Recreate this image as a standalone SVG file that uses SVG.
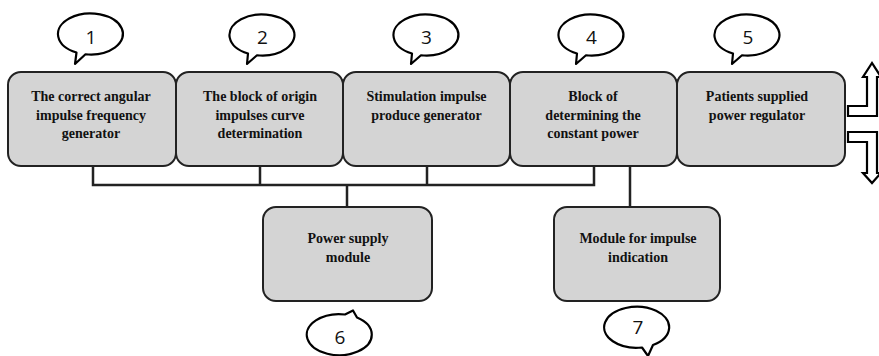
<svg xmlns="http://www.w3.org/2000/svg" width="879" height="356" viewBox="0 0 879 356">
<style>
.box{fill:#d4d4d4;stroke:#222;stroke-width:2}
.lbl{font-family:"Liberation Serif",serif;font-weight:bold;font-size:14px;fill:#111;text-anchor:middle}
.bub{fill:#fff;stroke:#000;stroke-width:2.2;stroke-linejoin:round}
.num{font-family:"Open Sans","Liberation Sans",sans-serif;font-size:19px;fill:#111;text-anchor:middle}
.con{fill:none;stroke:#222;stroke-width:2.5}
.arr{fill:#fff;stroke:#000;stroke-width:2.2;stroke-linejoin:miter}
</style>
<rect width="879" height="356" fill="#fff"/>
<g id="connectors">
<path class="con" d="M93,166 V185 H594 V166 M260,166 V185 M427,166 V185 M347,185 V207 M630,166 V207"/>
</g>
<g id="n1">
<rect class="box" x="8" y="72" width="168" height="94" rx="13"/>
<text class="lbl" x="91" y="101">The correct angular</text>
<text class="lbl" x="91" y="119.5">impulse frequency</text>
<text class="lbl" x="91" y="138">generator</text>
</g>
<g id="n2">
<rect class="box" x="176" y="72" width="167" height="94" rx="13"/>
<text class="lbl" x="260" y="101">The block of origin</text>
<text class="lbl" x="260" y="119.5">impulses curve</text>
<text class="lbl" x="260" y="138">determination</text>
</g>
<g id="n3">
<rect class="box" x="343" y="72" width="167" height="94" rx="13"/>
<text class="lbl" x="426.5" y="101">Stimulation impulse</text>
<text class="lbl" x="426.5" y="119.5">produce generator</text>
</g>
<g id="n4">
<rect class="box" x="510" y="72" width="167" height="94" rx="13"/>
<text class="lbl" x="593" y="101">Block of</text>
<text class="lbl" x="593" y="119.5">determining the</text>
<text class="lbl" x="593" y="138">constant power</text>
</g>
<g id="n5">
<rect class="box" x="677" y="72" width="168" height="94" rx="13"/>
<text class="lbl" x="757" y="101">Patients supplied</text>
<text class="lbl" x="757" y="119.5">power regulator</text>
</g>
<g id="n6">
<rect class="box" x="263" y="207" width="169" height="94" rx="13"/>
<text class="lbl" x="348" y="243">Power supply</text>
<text class="lbl" x="348" y="261.5">module</text>
</g>
<g id="n7">
<rect class="box" x="554" y="207" width="166" height="94" rx="13"/>
<text class="lbl" x="638" y="243">Module for impulse</text>
<text class="lbl" x="638" y="261.5">indication</text>
</g>
<g id="arrows">
<path class="arr" d="M848,106 H867 V77 H863 L872,63 L881,77 H877 V116 H848 Z"/>
<path class="arr" d="M848,132 H877 V173 H881 L872,183 L863,173 H867 V142 H848 Z"/>
</g>
<g id="c1">
<path class="bub" d="M85.5,54.25 A32.5 20.5 0 1 0 76.5,52.5 L75,64 Z"/>
<text class="num" x="91" y="43.5">1</text>
</g>
<g id="c2">
<path class="bub" d="M257,55.25 A32.5 20.5 0 1 0 248,53.5 L247,64 Z"/>
<text class="num" x="262.5" y="44">2</text>
</g>
<g id="c3">
<path class="bub" d="M421,55.25 A32.5 20.5 0 1 0 412,53.5 L411,64 Z"/>
<text class="num" x="426.5" y="44">3</text>
</g>
<g id="c4">
<path class="bub" d="M586,55.25 A32.5 20.5 0 1 0 577,53.5 L576,64 Z"/>
<text class="num" x="591.5" y="44">4</text>
</g>
<g id="c5">
<path class="bub" d="M742,55.25 A32.5 20.5 0 1 0 733,53.5 L732,64 Z"/>
<text class="num" x="748" y="44">5</text>
</g>
<g id="c6">
<path class="bub" d="M357,317.5 A32.5 20.5 0 1 1 345,314.5 L353,310.5 Z"/>
<text class="num" x="340" y="344">6</text>
</g>
<g id="c7">
<path class="bub" d="M642,347.5 A32.5 20.5 0 1 1 653,345 L648,356 Z"/>
<text class="num" x="638" y="334">7</text>
</g>
</svg>
